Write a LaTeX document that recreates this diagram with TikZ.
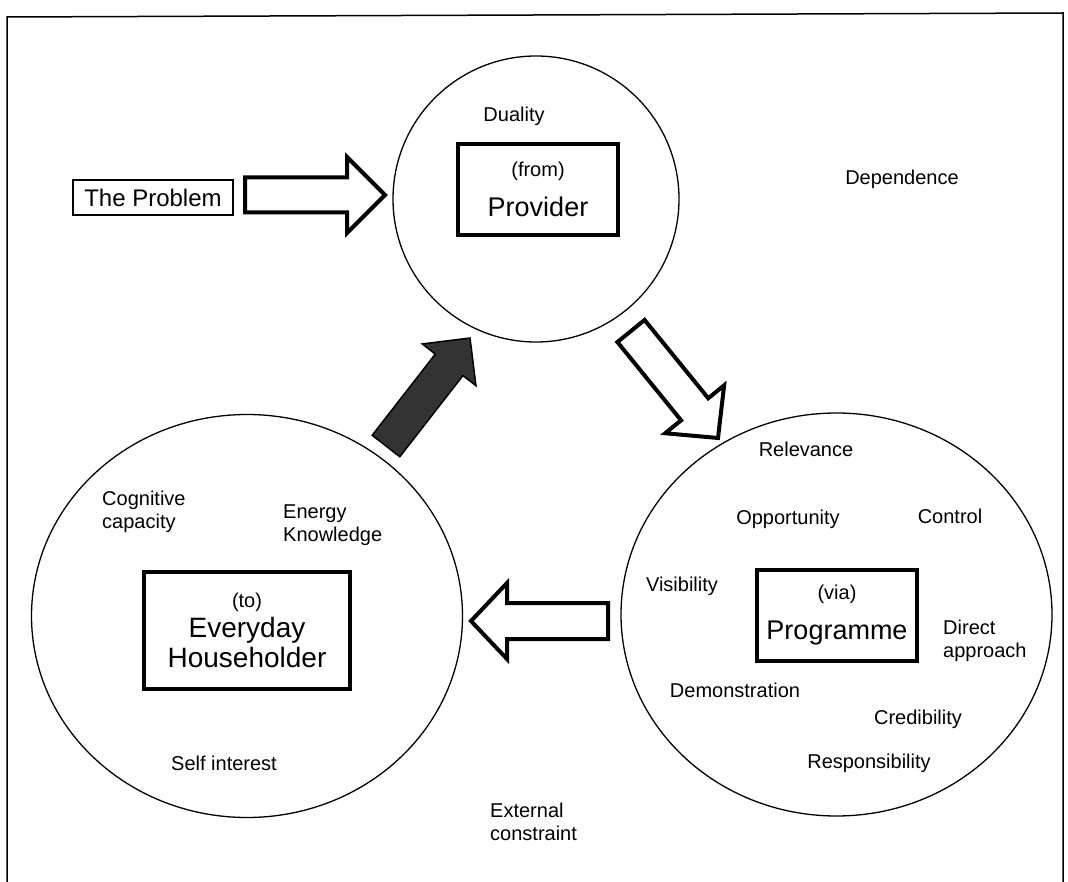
\documentclass[tikz,border=0pt]{standalone}
\usepackage{fontspec}
\setmainfont{Liberation Sans}
\usetikzlibrary{shapes.geometric,calc}
\newcommand\blockarrow[6]{%
  \draw[#1] let \p1=(#2), \p2=(#3), \n1={atan2(\y2-\y1,\x2-\x1)}, \n2={veclen(\x2-\x1,\y2-\y1)} in
    [shift={(\p1)}, rotate=\n1]
    (0,-#4) -- ({\n2-#6},-#4) -- ({\n2-#6},-#5) -- (\n2,0) -- ({\n2-#6},#5) -- ({\n2-#6},#4) -- (0,#4) -- cycle;}
\begin{document}
\begin{tikzpicture}[x=1pt,y=-1pt,
  lbl/.style={font=\fontsize{20}{23}\selectfont, inner sep=0pt, anchor=base},
  lblL/.style={font=\fontsize{20}{23}\selectfont, inner sep=0pt, align=left, anchor=west},
  bigbox/.style={draw, line width=3.5pt, inner sep=0pt, align=center},
  ring/.style={draw, line width=1.3pt, inner sep=0pt},
  hollow/.style={draw, line width=4pt, fill=white, line join=miter},
  solidarrow/.style={draw, line width=1.5pt, fill=black!80, line join=miter},
  frame/.style={draw, line width=1.5pt}]
\useasboundingbox (0,0) rectangle (1068,882);
\fill[white] (0,0) rectangle (1068,882);
% frame
\draw[frame] (7,882) -- (7,17) -- (1063,13) -- (1063,882);
% circles
\node[ring, circle, minimum size=286pt] (provC) at (536,199) {};
\node[ring, ellipse, minimum width=431pt, minimum height=403pt] (houseC) at (247,616) {};
\node[ring, ellipse, minimum width=431pt, minimum height=403pt] (progC) at (836.5,614.5) {};
% boxes
\node[bigbox, minimum width=160pt, minimum height=91pt, font=\fontsize{27}{40}\selectfont] (provider) at (538,189.5)
  {{\fontsize{20}{40}\selectfont (from)}\\Provider};
\node[bigbox, minimum width=206pt, minimum height=117pt, font=\fontsize{28}{30}\selectfont] (householder) at (247,630.5)
  {{\fontsize{20}{30}\selectfont (to)}\\Everyday\\Householder};
\node[bigbox, minimum width=160pt, minimum height=91pt, font=\fontsize{27}{40}\selectfont] (programme) at (837,615.5)
  {{\fontsize{20}{40}\selectfont (via)}\\Programme};
\node[draw, line width=2pt, inner sep=0pt, minimum width=160pt, minimum height=35pt, font=\fontsize{24}{28}\selectfont] (problem) at (153,197.5) {The Problem};
% arrows
\coordinate (a1s) at (245,195);  \coordinate (a1e) at (385,195);
\coordinate (a2s) at (631,331);  \coordinate (a2e) at (718,438);
\coordinate (a3s) at (608,621);  \coordinate (a3e) at (471,621);
\coordinate (a4s) at (386,446);  \coordinate (a4e) at (470,338);
\blockarrow{hollow}{a1s}{a1e}{17.5}{38}{38}
\blockarrow{hollow}{a2s}{a2e}{17.5}{38}{37}
\blockarrow{hollow}{a3s}{a3e}{18}{38}{36}
\blockarrow{solidarrow}{a4s}{a4e}{17.5}{34}{34}
% labels
\node[lbl] (duality) at (514,122) {Duality};
\node[lbl] (dependence) at (902,185) {Dependence};
\node[lblL] (cognitive) at (102,511.5) {Cognitive\\capacity};
\node[lblL] (energy) at (283,525.5) {Energy\\Knowledge};
\node[lbl] (selfint) at (224,770) {Self interest};
\node[lbl] (relevance) at (806,456) {Relevance};
\node[lbl] (opportunity) at (788,524) {Opportunity};
\node[lbl] (control) at (950,523) {Control};
\node[lbl] (visibility) at (682,591) {Visibility};
\node[lblL] (direct) at (943,641) {Direct\\approach};
\node[lbl] (demo) at (735,697) {Demonstration};
\node[lbl] (cred) at (918,724) {Credibility};
\node[lbl] (resp) at (869,768) {Responsibility};
\node[lblL] (external) at (490,822) {External\\constraint};
\end{tikzpicture}
\end{document}
